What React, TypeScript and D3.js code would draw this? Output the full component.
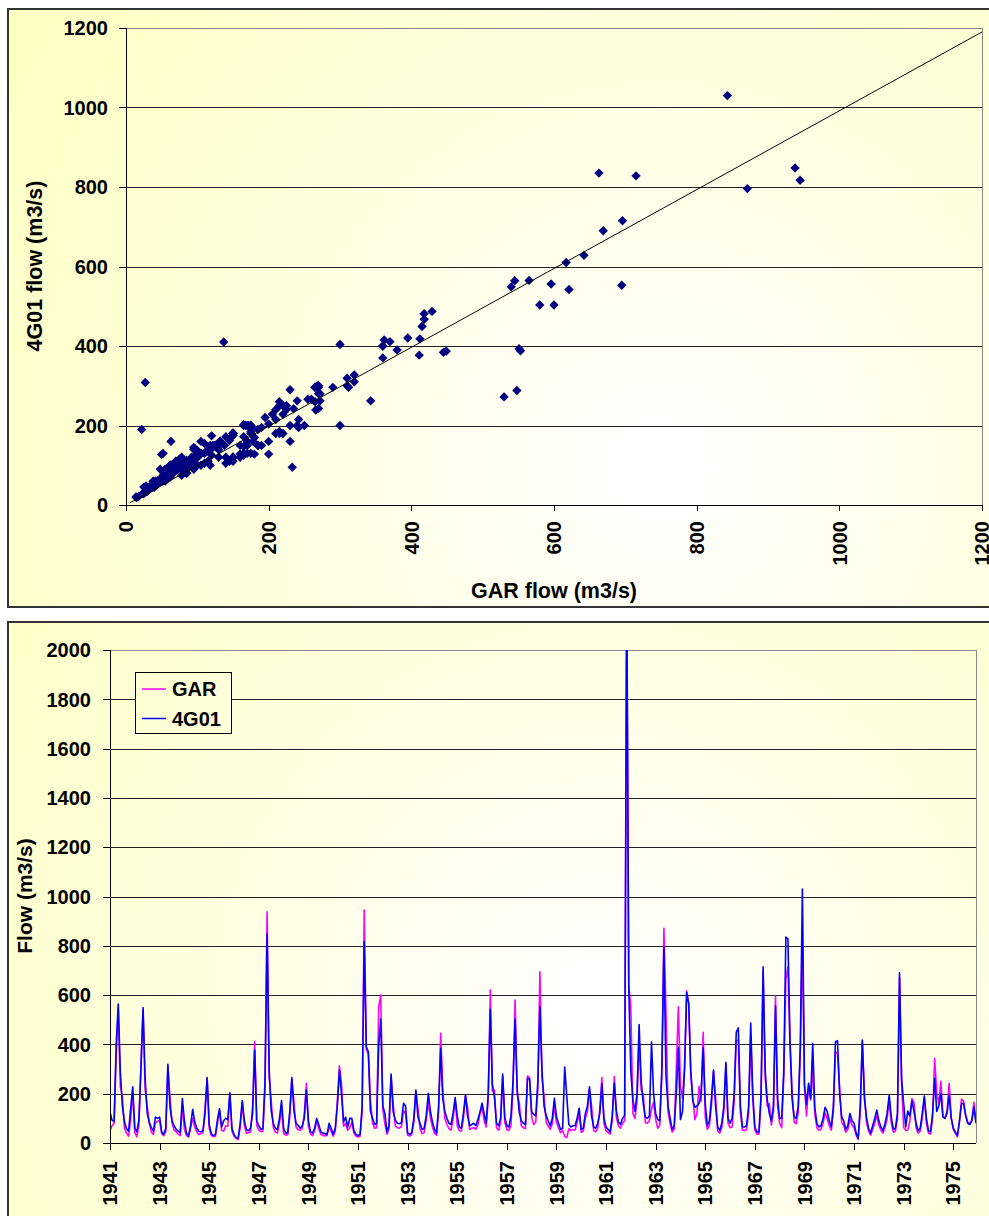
import React from 'react';
import * as d3 from 'd3';

// Monthly flows (m3/s), one row per year (Jan..Dec), 1941-1975
const YEAR_ROWS = ['1941','1942','1943','1944','1945','1946','1947','1948','1949','1950','1951','1952','1953','1954','1955','1956','1957','1958','1959','1960','1961','1962','1963','1964','1965','1966','1967','1968','1969','1970','1971','1972','1973','1974','1975'];

const G4_ROWS: number[][] = [
  [127, 92, 88, 400, 564, 290, 150, 85, 58, 48, 140, 228],
  [60, 45, 95, 310, 549, 260, 120, 85, 62, 48, 105, 100],
  [105, 45, 35, 60, 319, 150, 90, 70, 55, 48, 42, 180],
  [90, 40, 28, 70, 137, 85, 60, 48, 45, 50, 120, 266],
  [75, 38, 30, 34, 95, 139, 65, 90, 100, 95, 204, 60],
  [35, 22, 20, 80, 172, 90, 55, 50, 60, 120, 377, 90],
  [70, 55, 60, 250, 848, 300, 130, 80, 60, 55, 100, 172],
  [60, 40, 42, 130, 266, 130, 80, 72, 60, 68, 100, 215],
  [90, 45, 40, 60, 99, 75, 45, 40, 38, 35, 80, 60],
  [35, 60, 150, 296, 200, 85, 105, 65, 100, 100, 50, 35],
  [30, 35, 150, 817, 390, 370, 130, 100, 75, 80, 393, 503],
  [150, 120, 45, 70, 280, 128, 95, 80, 78, 82, 161, 150],
  [40, 35, 42, 100, 215, 105, 80, 55, 60, 110, 202, 130],
  [85, 55, 40, 150, 384, 180, 128, 100, 80, 75, 120, 184],
  [110, 65, 60, 120, 195, 110, 70, 75, 80, 70, 95, 125],
  [162, 120, 80, 200, 542, 240, 185, 80, 70, 100, 280, 105],
  [70, 65, 110, 250, 503, 220, 125, 90, 80, 75, 262, 260],
  [128, 115, 110, 250, 553, 296, 150, 112, 90, 70, 100, 181],
  [108, 80, 55, 60, 308, 190, 75, 65, 70, 70, 100, 141],
  [55, 60, 120, 150, 228, 110, 65, 60, 80, 120, 239, 100],
  [65, 55, 45, 110, 243, 130, 85, 75, 100, 112, 2300, 628],
  [288, 174, 128, 200, 481, 250, 160, 105, 100, 110, 410, 200],
  [120, 95, 90, 300, 796, 272, 150, 100, 55, 70, 200, 388],
  [95, 128, 300, 610, 565, 296, 170, 145, 150, 160, 200, 387],
  [160, 70, 90, 180, 296, 150, 65, 50, 80, 150, 327, 100],
  [80, 100, 200, 449, 467, 150, 65, 65, 70, 150, 487, 200],
  [65, 45, 45, 200, 715, 296, 175, 120, 90, 150, 556, 180],
  [100, 100, 296, 835, 828, 420, 180, 105, 100, 150, 400, 1030],
  [240, 155, 242, 180, 404, 145, 80, 65, 70, 100, 145, 128],
  [90, 65, 150, 411, 415, 200, 105, 90, 55, 70, 120, 90],
  [80, 40, 19, 150, 418, 180, 105, 60, 40, 70, 100, 134],
  [90, 65, 50, 80, 120, 195, 105, 55, 60, 120, 690, 262],
  [160, 65, 130, 110, 170, 128, 80, 50, 60, 120, 190, 100],
  [50, 45, 120, 262, 128, 150, 200, 105, 100, 120, 195, 100],
  [60, 45, 30, 90, 160, 160, 110, 80, 75, 90, 147, 80],
];

const GAR_ROWS: number[][] = [
  [50, 70, 80, 360, 545, 230, 185, 60, 40, 28, 95, 205],
  [42, 25, 75, 320, 540, 215, 150, 80, 45, 35, 82, 88],
  [92, 38, 30, 48, 310, 185, 82, 52, 46, 36, 30, 150],
  [55, 30, 24, 62, 100, 64, 45, 34, 38, 42, 150, 255],
  [60, 30, 26, 28, 78, 130, 52, 48, 70, 68, 200, 48],
  [28, 18, 14, 62, 165, 72, 40, 42, 45, 150, 411, 70],
  [52, 46, 48, 220, 938, 268, 170, 62, 44, 40, 82, 140],
  [38, 32, 34, 110, 260, 165, 66, 54, 52, 58, 118, 242],
  [70, 36, 30, 50, 90, 58, 35, 30, 30, 30, 65, 48],
  [28, 50, 170, 312, 240, 68, 80, 52, 62, 85, 40, 28],
  [24, 28, 128, 945, 380, 360, 175, 82, 60, 62, 551, 600],
  [138, 78, 36, 58, 270, 160, 70, 62, 60, 66, 132, 118],
  [32, 28, 35, 84, 210, 140, 58, 38, 42, 95, 165, 105],
  [65, 40, 32, 130, 445, 220, 100, 75, 58, 52, 98, 175],
  [70, 50, 48, 100, 190, 145, 55, 60, 62, 55, 72, 120],
  [145, 92, 65, 175, 621, 210, 215, 62, 52, 82, 272, 85],
  [55, 50, 70, 225, 580, 195, 165, 70, 62, 58, 272, 265],
  [105, 75, 85, 220, 695, 265, 190, 85, 70, 55, 78, 150],
  [85, 62, 42, 50, 27, 22, 58, 50, 55, 52, 82, 118],
  [44, 48, 100, 128, 220, 150, 50, 45, 62, 140, 266, 78],
  [50, 42, 36, 92, 270, 105, 68, 60, 80, 90, 2200, 642],
  [548, 120, 100, 172, 418, 215, 200, 82, 80, 92, 137, 165],
  [96, 60, 72, 270, 871, 530, 128, 78, 44, 56, 300, 553],
  [233, 180, 310, 617, 565, 270, 180, 95, 122, 230, 168, 449],
  [105, 55, 70, 150, 290, 185, 50, 40, 62, 128, 320, 80],
  [62, 65, 172, 415, 418, 125, 52, 50, 55, 122, 429, 175],
  [52, 36, 36, 170, 696, 265, 150, 160, 72, 128, 596, 150],
  [80, 62, 268, 663, 715, 395, 215, 85, 78, 125, 360, 843],
  [225, 110, 235, 175, 300, 118, 62, 52, 55, 80, 122, 100],
  [70, 52, 130, 370, 362, 230, 85, 70, 44, 55, 98, 72],
  [62, 32, 15, 125, 412, 210, 85, 48, 32, 55, 80, 112],
  [72, 52, 40, 64, 98, 175, 82, 44, 48, 98, 669, 240],
  [63, 52, 52, 88, 180, 165, 62, 40, 48, 100, 185, 80],
  [40, 36, 100, 343, 200, 160, 250, 110, 100, 130, 242, 105],
  [55, 40, 25, 85, 178, 170, 115, 85, 78, 95, 165, 85],
];

const X_TICK_YEARS = ['1941','1943','1945','1947','1949','1951','1953','1955','1957','1959','1961','1963','1965','1967','1969','1971','1973','1975'];
const SCATTER_TICKS = [0, 200, 400, 600, 800, 1000, 1200];
const FLOW_TICKS = [0, 200, 400, 600, 800, 1000, 1200, 1400, 1600, 1800, 2000];
const TREND_LINE: [number, number][] = [[5, 5], [1200, 1190]];
const SERIES_NAMES = ['GAR', '4G01'];

const FONT = "'Liberation Sans', Arial, sans-serif";
const px = (v: number) => Math.round(v) + 0.5;

export default function App() {
  const gar = GAR_ROWS.flat();
  const g4 = G4_ROWS.flat();
  const pts = gar.map((g, i) => [g, g4[i]] as [number, number]);

  const sx = d3.scaleLinear().domain([0, 1200]).range([126, 982]);
  const sy = d3.scaleLinear().domain([0, 1200]).range([505, 28]);
  const bx = d3.scaleLinear().domain([0, gar.length - 1]).range([110, 976]);
  const by = d3.scaleLinear().domain([0, 2000]).range([1143, 650]);
  const line = d3.line<number>().x((_, i) => bx(i)).y(d => by(d));
  const trend = d3.line<[number, number]>().x(d => sx(d[0])).y(d => sy(d[1]));

  const diamond = 'M0,-4.7L4.7,0L0,4.7L-4.7,0Z';

  return (
    <svg width={989} height={1216} style={{ position: 'absolute', left: 0, top: 0 }} fontFamily={FONT}>
      <defs>
        <radialGradient id="bgTop" gradientUnits="userSpaceOnUse" cx={660} cy={470} r={760}>
          <stop offset="0" stopColor="#FFFFFF" />
          <stop offset="0.12" stopColor="#FFFFF8" />
          <stop offset="1" stopColor="#FFFFC4" />
        </radialGradient>
        <radialGradient id="bgBot" gradientUnits="userSpaceOnUse" cx={600} cy={1010} r={760}>
          <stop offset="0" stopColor="#FFFFFF" />
          <stop offset="0.12" stopColor="#FFFFF8" />
          <stop offset="1" stopColor="#FFFFC4" />
        </radialGradient>
        <clipPath id="clipTop"><rect x={126} y={28} width={856} height={477} /></clipPath>
        <clipPath id="clipBot"><rect x={110} y={650} width={866} height={493} /></clipPath>
      </defs>

      {/* ---------- Top: scatter ---------- */}
      <rect x={8} y={9} width={1000} height={598} fill="url(#bgTop)" stroke="#333" strokeWidth={2} />
      {SCATTER_TICKS.filter(t => t > 0 && t < 1200).map(t => (
        <line key={'gy' + t} x1={126} x2={982} y1={px(sy(t))} y2={px(sy(t))} stroke="#222" strokeWidth={1} />
      ))}
      <line x1={126} x2={982} y1={px(sy(1200))} y2={px(sy(1200))} stroke="#888" strokeWidth={1} />
      <line x1={px(sx(1200))} x2={px(sx(1200))} y1={28} y2={505} stroke="#888" strokeWidth={1} />
      <g clipPath="url(#clipTop)">
        {pts.filter(p => p[0] <= 1200 && p[1] <= 1200).map((p, i) => (
          <path key={i} d={diamond} transform={`translate(${sx(p[0])},${sy(p[1])})`} fill="#000080" />
        ))}
        <path d={trend(TREND_LINE) || ''} stroke="#000" strokeWidth={1} fill="none" />
      </g>
      <line x1={px(sx(0))} x2={px(sx(0))} y1={28} y2={505} stroke="#000" strokeWidth={1} />
      <line x1={126} x2={982} y1={px(sy(0))} y2={px(sy(0))} stroke="#000" strokeWidth={1} />
      {SCATTER_TICKS.map(t => (
        <g key={'ty' + t}>
          <line x1={119} x2={126} y1={px(sy(t))} y2={px(sy(t))} stroke="#000" />
          <text x={108} y={sy(t)} dy="0.36em" textAnchor="end" fontSize={20} fontWeight="bold">{t}</text>
        </g>
      ))}
      {SCATTER_TICKS.map(t => (
        <g key={'tx' + t}>
          <line x1={px(sx(t))} x2={px(sx(t))} y1={505} y2={511} stroke="#000" />
          <text transform={`translate(${sx(t)},521) rotate(-90)`} dy="0.36em" textAnchor="end" fontSize={20} fontWeight="bold">{t}</text>
        </g>
      ))}
      <text x={554} y={598} textAnchor="middle" fontSize={21.5} fontWeight="bold">GAR flow (m3/s)</text>
      <text transform="translate(42,266) rotate(-90)" textAnchor="middle" fontSize={21.5} fontWeight="bold">4G01 flow (m3/s)</text>

      {/* ---------- Bottom: time series ---------- */}
      <rect x={8} y={622} width={1000} height={610} fill="url(#bgBot)" stroke="#333" strokeWidth={2} />
      {FLOW_TICKS.filter(t => t > 0 && t < 2000).map(t => (
        <line key={'by' + t} x1={110} x2={976} y1={px(by(t))} y2={px(by(t))} stroke="#222" strokeWidth={1} />
      ))}
      <line x1={110} x2={976} y1={px(by(2000))} y2={px(by(2000))} stroke="#888" strokeWidth={1} />
      <line x1={px(976)} x2={px(976)} y1={650} y2={1143} stroke="#888" strokeWidth={1} />
      <g clipPath="url(#clipBot)">
        <path d={line(gar) || ''} stroke="#FF00FF" strokeWidth={1.6} fill="none" strokeLinejoin="round" />
        <path d={line(g4) || ''} stroke="#0000FF" strokeWidth={1.6} fill="none" strokeLinejoin="round" />
      </g>
      <line x1={px(110)} x2={px(110)} y1={650} y2={1143} stroke="#000" strokeWidth={1} />
      <line x1={110} x2={976} y1={px(by(0))} y2={px(by(0))} stroke="#000" strokeWidth={1} />
      {FLOW_TICKS.map(t => (
        <g key={'fy' + t}>
          <line x1={103} x2={110} y1={px(by(t))} y2={px(by(t))} stroke="#000" />
          <text x={91} y={by(t)} dy="0.36em" textAnchor="end" fontSize={20} fontWeight="bold">{t}</text>
        </g>
      ))}
      {X_TICK_YEARS.map(y => {
        const idx = YEAR_ROWS.indexOf(y) * 12;
        return (
          <g key={'fx' + y}>
            <line x1={px(bx(idx))} x2={px(bx(idx))} y1={1143} y2={1150} stroke="#000" />
            <text transform={`translate(${bx(idx)},1161) rotate(-90)`} dy="0.36em" textAnchor="end" fontSize={20} fontWeight="bold">{y}</text>
          </g>
        );
      })}
      <text transform="translate(32,896) rotate(-90)" textAnchor="middle" fontSize={21} fontWeight="bold">Flow (m3/s)</text>

      {/* legend */}
      <rect x={135.5} y={672.5} width={96} height={61} fill="url(#bgBot)" stroke="#000" strokeWidth={1} />
      {SERIES_NAMES.map((n, i) => (
        <g key={n}>
          <line x1={142} x2={166} y1={689 + i * 29.5} y2={689 + i * 29.5} stroke={i === 0 ? '#FF00FF' : '#0000FF'} strokeWidth={1.5} />
          <text x={172} y={689 + i * 29.5} dy="0.36em" fontSize={20} fontWeight="bold">{n}</text>
        </g>
      ))}
    </svg>
  );
}
